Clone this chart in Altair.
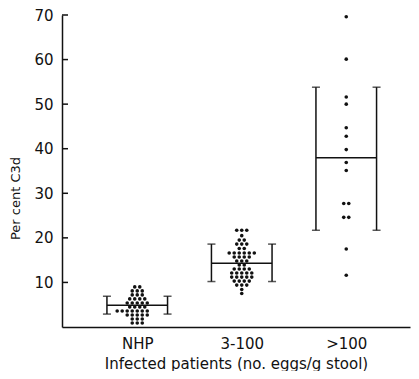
import altair as alt
import pandas as pd

# ---- data ----
groups = ["NHP", "3-100", ">100"]
group_pos = [1, 2, 3]
group_means = [4.9, 14.3, 38.0]
group_lows = [2.9, 10.2, 21.7]
group_highs = [6.9, 18.6, 53.8]

# dot rows: value, number of dots in row, first slot (dot-width units from column centre)
nhp_vals = [9.0, 8.1, 7.2, 6.3, 5.4, 4.5, 3.6, 2.7, 1.8, 0.9]
nhp_counts = [2, 3, 3, 4, 5, 4, 7, 5, 3, 3]
nhp_start = [-0.5, -1, -1, -1.5, -2, -1.5, -4, -2, -1, -1]

mid_vals = [21.7, 20.5, 19.5, 18.6, 17.6, 16.6, 15.7, 14.8, 13.9, 13.0, 12.1, 11.2, 10.3, 9.4, 8.4, 7.5]
mid_counts = [3, 1, 2, 3, 2, 6, 4, 3, 2, 4, 5, 5, 4, 3, 1, 1]
mid_start = [-1, 0, -0.5, -1, -0.5, -2.5, -1.5, -1, -0.5, -1.5, -2, -2, -1.5, -1, 0, 0]

high_vals = [69.6, 60.1, 51.6, 50.0, 44.7, 42.8, 39.8, 36.9, 35.1, 27.7, 24.6, 17.5, 11.6]
high_counts = [1, 1, 1, 1, 1, 1, 1, 1, 1, 2, 2, 1, 1]
high_start = [0, 0, 0, 0, 0, 0, 0, 0, 0, -0.5, -0.5, 0, 0]

y_ticks = [10, 20, 30, 40, 50, 60, 70]

# ---- layout constants ----
STEP = 0.048   # horizontal spacing of stacked dots (x units)
HW = 0.29      # half width of the mean/SD bracket
X_DOMAIN = [0.28, 3.61]
INK = "#111111"

rows = []
for pos, vals, counts, starts in [
    (group_pos[0], nhp_vals, nhp_counts, nhp_start),
    (group_pos[1], mid_vals, mid_counts, mid_start),
    (group_pos[2], high_vals, high_counts, high_start),
]:
    for v, c, s in zip(vals, counts, starts):
        for k in range(c):
            rows.append({"x": pos + (s + k) * STEP, "y": v})
points = pd.DataFrame(rows)

br = pd.DataFrame({"pos": group_pos, "mean": group_means, "lo": group_lows, "hi": group_highs})
mean_df = pd.DataFrame({"x": br["pos"] - HW, "x2": br["pos"] + HW, "y": br["mean"]})
side_df = pd.concat([
    pd.DataFrame({"x": br["pos"] - HW, "y": br["lo"], "y2": br["hi"]}),
    pd.DataFrame({"x": br["pos"] + HW, "y": br["lo"], "y2": br["hi"]}),
])
cap_df = pd.concat([
    pd.DataFrame({"x": side_df["x"], "y": side_df["y"]}),
    pd.DataFrame({"x": side_df["x"], "y": side_df["y2"]}),
])
ticks_df = pd.DataFrame({"y": y_ticks})

label_expr = " : ".join(
    [f"datum.value == {p} ? '{g}'" for p, g in zip(group_pos, groups)]
) + " : ''"

FONT = "DejaVu Sans"
xscale = alt.Scale(domain=X_DOMAIN, nice=False, zero=False)
yscale = alt.Scale(domain=[0, 70], nice=False)

x_axis = alt.Axis(
    values=group_pos, labelExpr=label_expr, ticks=False, tickSize=0, grid=False,
    labelFont=FONT, labelFontSize=15, labelColor=INK, labelBaseline="alphabetic",
    labelPadding=21, labelFlush=False,
    domainColor=INK, domainWidth=1.5,
    titleFont=FONT, titleFontSize=15,
    titleFontWeight="normal", titleColor=INK, titleBaseline="alphabetic", titleY=41,
)
y_axis = alt.Axis(
    values=y_ticks, ticks=False, tickSize=0, grid=False,
    labelFont=FONT, labelFontSize=15, labelColor=INK, labelPadding=9,
    domainColor=INK, domainWidth=1.5,
    titleFont=FONT, titleFontSize=13, titleFontWeight="normal",
    titleColor=INK, titleX=-53, titleY=183, titleBaseline="top",
)
X_TITLE = "Infected patients (no. eggs/g stool)"
Y_TITLE = "Per cent C3d"


def xe():
    return alt.X("x:Q", scale=xscale, axis=x_axis, title=X_TITLE)


def ye():
    return alt.Y("y:Q", scale=yscale, axis=y_axis, title=Y_TITLE)


dots = alt.Chart(points).mark_circle(size=13, color=INK, opacity=1).encode(x=xe(), y=ye())

mean_lines = alt.Chart(mean_df).mark_rule(color=INK, strokeWidth=1.5).encode(
    x=xe(), x2="x2:Q", y=ye()
)

side_lines = alt.Chart(side_df).mark_rule(color=INK, strokeWidth=1.5).encode(
    x=xe(), y=ye(), y2="y2:Q"
)

cap_ticks = alt.Chart(cap_df).mark_tick(
    color=INK, orient="horizontal", size=8, thickness=1.5
).encode(x=xe(), y=ye())

inner_ticks = alt.Chart(ticks_df).mark_rule(color=INK, strokeWidth=1.5).encode(
    y=ye(), x=alt.value(0), x2=alt.value(6)
)

chart = alt.layer(dots, mean_lines, side_lines, cap_ticks, inner_ticks).properties(
    width=348,
    height=312,
    autosize=alt.AutoSizeParams(type="none"),
    padding={"left": 54, "top": 7, "right": 1, "bottom": 44},
).configure_view(stroke=None)

chart.save("out.html", embed_options={"renderer": "svg", "actions": False})
